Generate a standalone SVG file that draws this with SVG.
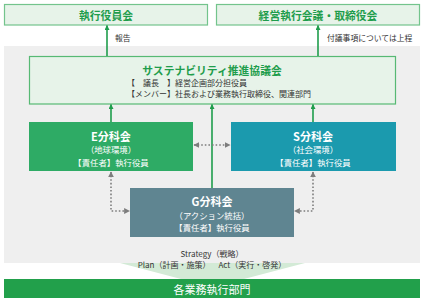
<svg xmlns="http://www.w3.org/2000/svg" width="425" height="303" viewBox="0 0 425 303">
<defs>
<marker id="ga" viewBox="0 0 10 10" refX="9" refY="5" markerWidth="5" markerHeight="5" markerUnits="userSpaceOnUse" orient="auto-start-reverse"><path d="M0,0 L10,5 L0,10 z" fill="#1f9d4c"/></marker>
<marker id="gr" viewBox="0 0 10 10" refX="9" refY="5" markerWidth="6" markerHeight="6" markerUnits="userSpaceOnUse" orient="auto-start-reverse"><path d="M0,0 L10,5 L0,10 z" fill="#7d7d7d"/></marker>
</defs>
<style>
text{font-family:"Noto Sans CJK JP","Noto Sans",sans-serif;text-anchor:middle;dominant-baseline:central;text-spacing-trim:space-all}
.top{fill:#e7f3e9;stroke:#73c48c;stroke-width:1.2}
.ttl{fill:#1f9d4c;font-weight:bold;font-size:10.8px}
.sub{fill:#333;font-size:8px;text-anchor:start}
.wt{fill:#fff;font-weight:bold;font-size:11px}
.ws{fill:#fff;font-size:8.4px}
.note{fill:#333;font-size:7.8px;text-anchor:start}
.gline{stroke:#1f9d4c;stroke-width:1.6;fill:none;marker-end:url(#ga)}
.dot{stroke:#7d7d7d;stroke-width:1.6;stroke-dasharray:1.6 2;fill:none}
.bt{fill:#333;font-size:8px}
</style>
<rect x="4" y="46" width="416" height="217" fill="#efefef"/>
<polygon points="120,263 305,263 244,279 181,279" fill="#d3ead6"/>
<g id="node-exec">
<rect class="top" x="4.5" y="4.5" width="203" height="20.5"/>
<text class="ttl" x="106" y="15">執行役員会</text>
</g>
<g id="node-board">
<rect class="top" x="216.5" y="4.5" width="203" height="20.5"/>
<text class="ttl" x="318" y="15">経営執行会議・取締役会</text>
</g>
<g id="node-council">
<rect x="29.5" y="56.5" width="366" height="47.5" fill="#e7f3e9" stroke="#57b974" stroke-width="1.2"/>
<text class="ttl" x="212" y="70">サステナビリティ推進協議会</text>
<text class="sub" x="127" y="82.5">【　議長　】経営企画部分担役員</text>
<text class="sub" x="127" y="93.5">【メンバー】社長および業務執行取締役、関連部門</text>
</g>
<g id="node-e">
<rect x="29" y="122" width="164" height="49" fill="#2eab65"/>
<text class="wt" x="111" y="135.5">E分科会</text>
<text class="ws" x="111" y="149">（地球環境）</text>
<text class="ws" x="111" y="162">【責任者】執行役員</text>
</g>
<g id="node-s">
<rect x="231" y="122" width="165" height="49" fill="#1b9aae"/>
<text class="wt" x="313" y="135.5">S分科会</text>
<text class="ws" x="313" y="149">（社会環境）</text>
<text class="ws" x="313" y="162">【責任者】執行役員</text>
</g>
<g id="node-g">
<rect x="130" y="188" width="164" height="49" fill="#5f8591"/>
<text class="wt" x="212" y="201">G分科会</text>
<text class="ws" x="212" y="214.5">（アクション統括）</text>
<text class="ws" x="212" y="227">【責任者】執行役員</text>
</g>
<g id="node-dept">
<rect x="4" y="279" width="416" height="19" fill="#22a04b"/>
<text x="212" y="288.5" fill="#fff" font-size="11px">各業務執行部門</text>
</g>
<g id="connectors">
<line class="gline" x1="107" y1="56" x2="107" y2="25.5"/>
<line class="gline" x1="318" y1="56" x2="318" y2="25.5"/>
<line class="gline" x1="111" y1="122" x2="111" y2="104.5"/>
<line class="gline" x1="212" y1="188" x2="212" y2="104.5"/>
<line class="gline" x1="313" y1="122" x2="313" y2="104.5"/>
<line class="dot" x1="194" y1="145" x2="230" y2="145" marker-start="url(#gr)" marker-end="url(#gr)"/>
<polyline class="dot" points="111,172 111,211 129.5,211" marker-start="url(#gr)" marker-end="url(#gr)"/>
<polyline class="dot" points="313,172 313,211 294.5,211" marker-start="url(#gr)" marker-end="url(#gr)"/>
</g>
<text class="note" x="115" y="37">報告</text>
<text class="note" x="327" y="37">付議事項については上程</text>
<text class="bt" x="212" y="253">Strategy（戦略）</text>
<text class="bt" x="212" y="264.5">Plan（計画・施策）　Act（実行・啓発）</text>
</svg>
